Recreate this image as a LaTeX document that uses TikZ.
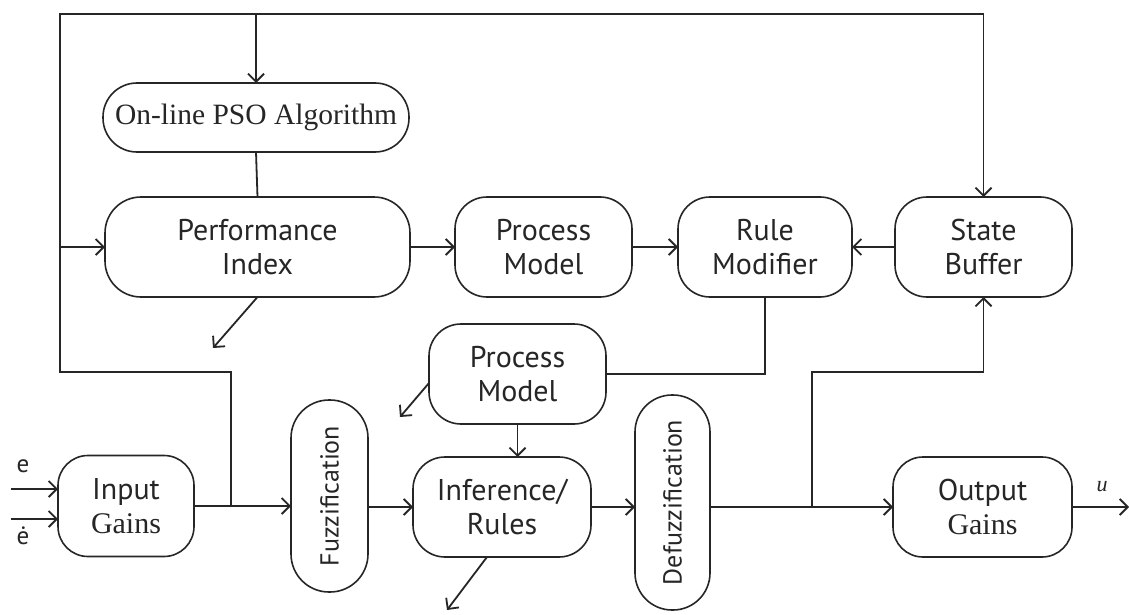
\documentclass[tikz,border=0pt]{standalone}
\usepackage{fontspec}
\setsansfont{PT Sans}
\setmainfont{Liberation Serif}
\usetikzlibrary{arrows.meta}

\tikzset{
  blk/.style={draw=black!85, line width=1.6pt, rounded corners=#1, inner sep=0pt, outer sep=0pt,
              align=center, font=\sffamily\fontsize{30}{34}\selectfont, text=black!85},
  blk/.default=32pt,
  vlabel/.style={font=\sffamily\fontsize{26}{30}\selectfont},
  wire/.style={draw=black!85, line width=1.8pt},
  arr/.style={wire, -{Straight Barb[length=8pt,width=16pt,line width=1.8pt]}},
}

\begin{document}
\begin{tikzpicture}[x=1pt,y=-1pt]
\useasboundingbox[fill=white] (0,0) rectangle (1129,615);

% upper row: tuning loop
\node[blk=34pt, minimum width=306pt, minimum height=69pt, font=\rmfamily\fontsize{29.5}{34}\selectfont]
  (pso) at (256,117.5) {On-line PSO Algorithm};
\node[blk=36pt, minimum width=305pt, minimum height=100pt] (perf) at (257.5,247) {Performance\\Index};
\node[blk, minimum width=177pt, minimum height=100pt] (pm1) at (543.5,247) {Process\\Model};
\node[blk, minimum width=174pt, minimum height=100pt] (rm) at (765,247) {Rule\\Modifier};
\node[blk, minimum width=177pt, minimum height=100pt] (sb) at (983.5,247) {State\\Buffer};

% lower row: fuzzy controller
\node[blk, minimum width=177pt, minimum height=100pt] (pm2) at (517.5,374) {Process\\Model};
\node[blk=30pt, minimum width=136pt, minimum height=101pt] (ig) at (126,506)
  {Input\\{\rmfamily Gains}};
\node[blk=38pt, minimum width=77pt, minimum height=192pt, vlabel] (fz) at (329.5,496)
  {\rotatebox{90}{Fuzzification}};
\node[blk, minimum width=178pt, minimum height=100pt] (inf) at (502,507) {Inference/\\Rules};
\node[blk=37pt, minimum width=75pt, minimum height=215pt, vlabel] (dfz) at (672.5,502.5)
  {\rotatebox{90}{Defuzzification}};
\node[blk=30pt, minimum width=179pt, minimum height=100pt] (og) at (982.5,507)
  {Output\\{\rmfamily Gains}};

% input signals
\coordinate (eIn) at (11,489);
\coordinate (edIn) at (11,519);
\node[font=\sffamily\fontsize{25}{25}\selectfont, text=black!85] (eLab) at (23,466) {e};
\node[font=\sffamily\fontsize{25}{25}\selectfont, text=black!85] (edLab) at (23,536) {ė};
\draw[arr] (eIn) -- (eIn -| ig.west);
\draw[arr] (edIn) -- (edIn -| ig.west);

% feedback loop coordinates
\coordinate (jIn) at (231,506);
\coordinate (c1) at (231,372);
\coordinate (c2) at (60,372);
\coordinate (c3) at (60,14);
\coordinate (jOut) at (812,507);
\coordinate (c4) at (812,372);

% main signal path
\draw[arr] (ig.east) -- (fz.west |- ig.east);
\draw[arr] (fz.east |- inf.west) -- (inf.west);
\draw[arr] (inf.east) -- (dfz.west |- inf.east);
\draw[arr] (dfz.east |- og.west) -- (og.west);
\coordinate (uOut) at (1129,507);
\draw[arr] (og.east) -- (uOut);
\node[font=\rmfamily\itshape\fontsize{22}{22}\selectfont, text=black!85] (uLab) at (1102,487) {u};

% outer loop from the input line to the state buffer
\draw[arr] (jIn) -- (c1) -- (c2) -- (c3) -| (sb.north);
\draw[arr] (pso.north |- c3) -- (pso.north);
\draw[arr] (c2 |- perf.west) -- (perf.west);
\draw[wire] (pso.south) -- (perf.north);

% upper row connections
\draw[arr] (perf.east) -- (pm1.west);
\draw[arr] (pm1.east) -- (rm.west);
\draw[arr] (sb.west) -- (rm.east);
\draw[wire] (rm.south) |- (pm2.east);

% output branch back to the state buffer
\draw[arr] (jOut) -- (c4) -| (sb.south);

% lower process model into the rule base
\draw[arr] (pm2.south) -- (pm2.south |- inf.north);

% open-ended outputs
\coordinate (pfEnd) at (213,348);
\coordinate (pmEnd) at (400,417);
\coordinate (infEnd) at (447,610);
\draw[arr] (perf.south) -- (pfEnd);
\draw[arr] ([yshift=-9pt]pm2.west) -- (pmEnd);
\draw[arr] ([xshift=-15pt]inf.south) -- (infEnd);
\end{tikzpicture}
\end{document}
